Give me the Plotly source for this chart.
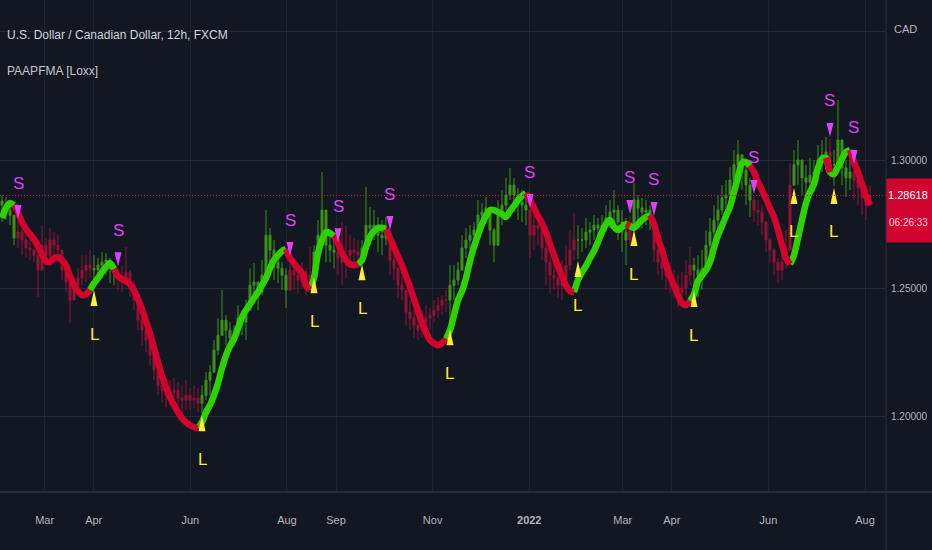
import pandas as pd
import plotly.graph_objects as go

# ---------------- data (USD/CAD 12h) ----------------
first_open = 1.2840
high = [
    1.2863, 1.2856, 1.2844, 1.2785, 1.2762, 1.2735, 1.2719, 1.2707, 1.2688, 1.2680,
    1.2746, 1.2696, 1.2735, 1.2719, 1.2707, 1.2649, 1.2602, 1.2551, 1.2551, 1.2578,
    1.2629, 1.2629, 1.2649, 1.2629, 1.2618, 1.2641, 1.2637, 1.2618, 1.2602, 1.2578,
    1.2590, 1.2661, 1.2571, 1.2532, 1.2462, 1.2395, 1.2368, 1.2317, 1.2259, 1.2200,
    1.2173, 1.2150, 1.2142, 1.2150, 1.2134, 1.2122, 1.2142, 1.2111, 1.2122, 1.2111,
    1.2122, 1.2173, 1.2200, 1.2298, 1.2384, 1.2493, 1.2395, 1.2368, 1.2356, 1.2434,
    1.2415, 1.2454, 1.2578, 1.2598, 1.2524, 1.2610, 1.2805, 1.2735, 1.2688, 1.2621,
    1.2602, 1.2578, 1.2618, 1.2602, 1.2590, 1.2602, 1.2578, 1.2661, 1.2668, 1.2766,
    1.2953, 1.2746, 1.2727, 1.2696, 1.2672, 1.2758, 1.2746, 1.2707, 1.2696, 1.2688,
    1.2688, 1.2895, 1.2817, 1.2805, 1.2778, 1.2766, 1.2778, 1.2680, 1.2649, 1.2583,
    1.2551, 1.2473, 1.2454, 1.2415, 1.2395, 1.2415, 1.2434, 1.2423, 1.2454, 1.2466,
    1.2473, 1.2493, 1.2590, 1.2590, 1.2602, 1.2707, 1.2735, 1.2746, 1.2758, 1.2844,
    1.2832, 1.2856, 1.2785, 1.2735, 1.2844, 1.2883, 1.2930, 1.2969, 1.2930, 1.2891,
    1.2883, 1.2863, 1.2793, 1.2824, 1.2797, 1.2735, 1.2688, 1.2629, 1.2602, 1.2571,
    1.2610, 1.2668, 1.2727, 1.2793, 1.2746, 1.2735, 1.2774, 1.2758, 1.2785, 1.2774,
    1.2785, 1.2824, 1.2844, 1.2883, 1.2824, 1.2805, 1.2774, 1.2782, 1.2910, 1.2863,
    1.2852, 1.2844, 1.2824, 1.2696, 1.2661, 1.2649, 1.2629, 1.2602, 1.2571, 1.2551,
    1.2563, 1.2610, 1.2661, 1.2618, 1.2629, 1.2649, 1.2727, 1.2774, 1.2824, 1.2863,
    1.2902, 1.2922, 1.2973, 1.3039, 1.3078, 1.3008, 1.2981, 1.2930, 1.2860, 1.2844,
    1.2824, 1.2746, 1.2696, 1.2657, 1.2618, 1.2668, 1.2727, 1.2988, 1.3039, 1.3078,
    1.3000, 1.2981, 1.3008, 1.3000, 1.3059, 1.3078, 1.3090, 1.3082, 1.3039, 1.3234,
    1.3020, 1.3000, 1.3000, 1.2977, 1.2961, 1.2922, 1.2902, 1.2902,
]
low = [
    1.2758, 1.2766, 1.2746, 1.2668, 1.2657, 1.2629, 1.2618, 1.2610, 1.2602, 1.2466,
    1.2602, 1.2590, 1.2618, 1.2629, 1.2602, 1.2532, 1.2485, 1.2364, 1.2454, 1.2473,
    1.2512, 1.2524, 1.2540, 1.2501, 1.2520, 1.2540, 1.2551, 1.2520, 1.2512, 1.2493,
    1.2485, 1.2532, 1.2466, 1.2415, 1.2337, 1.2278, 1.2251, 1.2200, 1.2142, 1.2083,
    1.2056, 1.2037, 1.2045, 1.2056, 1.2033, 1.2013, 1.2025, 1.2025, 1.2033, 1.2017,
    1.2013, 1.2064, 1.2083, 1.2189, 1.2239, 1.2317, 1.2278, 1.2267, 1.2271, 1.2317,
    1.2317, 1.2298, 1.2434, 1.2454, 1.2415, 1.2473, 1.2610, 1.2578, 1.2532, 1.2520,
    1.2493, 1.2423, 1.2512, 1.2493, 1.2481, 1.2501, 1.2473, 1.2493, 1.2571, 1.2602,
    1.2746, 1.2602, 1.2602, 1.2578, 1.2551, 1.2512, 1.2540, 1.2578, 1.2590, 1.2578,
    1.2602, 1.2629, 1.2668, 1.2688, 1.2641, 1.2629, 1.2668, 1.2551, 1.2532, 1.2462,
    1.2454, 1.2356, 1.2337, 1.2306, 1.2298, 1.2306, 1.2329, 1.2337, 1.2368, 1.2384,
    1.2395, 1.2407, 1.2348, 1.2454, 1.2512, 1.2590, 1.2618, 1.2649, 1.2657, 1.2707,
    1.2719, 1.2758, 1.2668, 1.2602, 1.2688, 1.2746, 1.2805, 1.2844, 1.2797, 1.2766,
    1.2758, 1.2746, 1.2618, 1.2649, 1.2668, 1.2610, 1.2512, 1.2481, 1.2493, 1.2462,
    1.2454, 1.2512, 1.2571, 1.2610, 1.2614, 1.2641, 1.2657, 1.2668, 1.2688, 1.2680,
    1.2696, 1.2719, 1.2735, 1.2746, 1.2688, 1.2641, 1.2590, 1.2668, 1.2770, 1.2746,
    1.2735, 1.2746, 1.2727, 1.2602, 1.2551, 1.2532, 1.2493, 1.2481, 1.2462, 1.2427,
    1.2442, 1.2473, 1.2512, 1.2497, 1.2462, 1.2493, 1.2590, 1.2641, 1.2688, 1.2735,
    1.2785, 1.2805, 1.2852, 1.2902, 1.2953, 1.2883, 1.2824, 1.2778, 1.2758, 1.2746,
    1.2707, 1.2641, 1.2602, 1.2551, 1.2520, 1.2532, 1.2578, 1.2688, 1.2899, 1.2902,
    1.2863, 1.2856, 1.2863, 1.2875, 1.2941, 1.2953, 1.2961, 1.2922, 1.2899, 1.3000,
    1.2902, 1.2856, 1.2883, 1.2844, 1.2824, 1.2785, 1.2766, 1.2824,
]
close = [
    1.2824, 1.2805, 1.2785, 1.2696, 1.2719, 1.2688, 1.2657, 1.2649, 1.2629, 1.2571,
    1.2668, 1.2629, 1.2688, 1.2668, 1.2649, 1.2571, 1.2524, 1.2454, 1.2512, 1.2540,
    1.2571, 1.2590, 1.2578, 1.2571, 1.2590, 1.2602, 1.2610, 1.2578, 1.2563, 1.2540,
    1.2532, 1.2563, 1.2512, 1.2454, 1.2376, 1.2337, 1.2298, 1.2239, 1.2181, 1.2122,
    1.2103, 1.2083, 1.2095, 1.2103, 1.2072, 1.2064, 1.2083, 1.2064, 1.2072, 1.2052,
    1.2083, 1.2142, 1.2173, 1.2259, 1.2317, 1.2376, 1.2337, 1.2306, 1.2317, 1.2384,
    1.2368, 1.2415, 1.2512, 1.2524, 1.2485, 1.2551, 1.2707, 1.2649, 1.2602, 1.2578,
    1.2551, 1.2493, 1.2571, 1.2551, 1.2532, 1.2563, 1.2524, 1.2551, 1.2641, 1.2707,
    1.2805, 1.2668, 1.2649, 1.2641, 1.2618, 1.2602, 1.2629, 1.2649, 1.2641, 1.2629,
    1.2657, 1.2746, 1.2735, 1.2746, 1.2707, 1.2696, 1.2719, 1.2610, 1.2578, 1.2512,
    1.2493, 1.2407, 1.2384, 1.2356, 1.2337, 1.2368, 1.2384, 1.2395, 1.2415, 1.2434,
    1.2454, 1.2454, 1.2512, 1.2532, 1.2571, 1.2657, 1.2688, 1.2707, 1.2727, 1.2785,
    1.2797, 1.2813, 1.2727, 1.2668, 1.2785, 1.2824, 1.2863, 1.2902, 1.2863, 1.2836,
    1.2824, 1.2805, 1.2707, 1.2746, 1.2735, 1.2657, 1.2602, 1.2551, 1.2540, 1.2512,
    1.2532, 1.2590, 1.2649, 1.2688, 1.2688, 1.2688, 1.2719, 1.2727, 1.2746, 1.2735,
    1.2746, 1.2774, 1.2797, 1.2805, 1.2758, 1.2719, 1.2688, 1.2735, 1.2844, 1.2813,
    1.2797, 1.2805, 1.2774, 1.2649, 1.2602, 1.2578, 1.2551, 1.2532, 1.2512, 1.2485,
    1.2501, 1.2551, 1.2590, 1.2571, 1.2551, 1.2578, 1.2668, 1.2719, 1.2766, 1.2805,
    1.2852, 1.2863, 1.2922, 1.2981, 1.3020, 1.2961, 1.2902, 1.2844, 1.2805, 1.2797,
    1.2758, 1.2688, 1.2649, 1.2602, 1.2571, 1.2602, 1.2649, 1.2902, 1.2981, 1.3000,
    1.2930, 1.2914, 1.2941, 1.2953, 1.3000, 1.3020, 1.3031, 1.2981, 1.2981, 1.3078,
    1.2969, 1.2930, 1.2953, 1.2922, 1.2891, 1.2852, 1.2824, 1.28618,
]
# PAAPFMA [Loxx] moving-average values
ma = [
    1.2774, 1.2813, 1.2832, 1.2824, 1.2797, 1.2758, 1.2731, 1.2711, 1.2692, 1.2665,
    1.2633, 1.2606, 1.2602, 1.2618, 1.2621, 1.2610, 1.2590, 1.2547, 1.2512, 1.2489,
    1.2473, 1.2477, 1.2493, 1.2520, 1.2540, 1.2563, 1.2583, 1.2598, 1.2575, 1.2547,
    1.2536, 1.2528, 1.2516, 1.2493, 1.2458, 1.2419, 1.2372, 1.2325, 1.2267, 1.2212,
    1.2158, 1.2115, 1.2076, 1.2045, 1.2017, 1.1994, 1.1978, 1.1966, 1.1959, 1.1955,
    1.1978, 1.2017, 1.2045, 1.2083, 1.2130, 1.2189, 1.2239, 1.2275, 1.2302, 1.2345,
    1.2388, 1.2415, 1.2438, 1.2462, 1.2485, 1.2512, 1.2540, 1.2578, 1.2610, 1.2629,
    1.2645, 1.2653, 1.2618, 1.2598, 1.2578, 1.2559, 1.2512, 1.2493, 1.2540, 1.2637,
    1.2688, 1.2719, 1.2715, 1.2704, 1.2676, 1.2637, 1.2610, 1.2594, 1.2590, 1.2594,
    1.2610, 1.2661, 1.2700, 1.2723, 1.2735, 1.2735, 1.2731, 1.2696, 1.2661, 1.2625,
    1.2590, 1.2547, 1.2505, 1.2458, 1.2411, 1.2368, 1.2329, 1.2298, 1.2286, 1.2278,
    1.2286, 1.2302, 1.2337, 1.2395, 1.2454, 1.2489, 1.2540, 1.2606, 1.2661, 1.2707,
    1.2750, 1.2782, 1.2805, 1.2805, 1.2797, 1.2789, 1.2778, 1.2801, 1.2821, 1.2844,
    1.2860, 1.2871, 1.2844, 1.2813, 1.2782, 1.2754, 1.2719, 1.2672, 1.2629, 1.2587,
    1.2547, 1.2512, 1.2489, 1.2485, 1.2532, 1.2563, 1.2587, 1.2618, 1.2645, 1.2680,
    1.2719, 1.2750, 1.2766, 1.2739, 1.2727, 1.2739, 1.2750, 1.2743, 1.2735, 1.2750,
    1.2766, 1.2778, 1.2785, 1.2750, 1.2696, 1.2649, 1.2594, 1.2547, 1.2512, 1.2473,
    1.2442, 1.2434, 1.2450, 1.2477, 1.2528, 1.2551, 1.2571, 1.2602, 1.2657, 1.2707,
    1.2743, 1.2782, 1.2817, 1.2875, 1.2934, 1.2988, 1.2992, 1.2977, 1.2953, 1.2914,
    1.2883, 1.2848, 1.2813, 1.2778, 1.2727, 1.2668, 1.2618, 1.2594, 1.2629, 1.2696,
    1.2766, 1.2832, 1.2875, 1.2906, 1.2969, 1.3004, 1.3008, 1.2953, 1.2945, 1.2973,
    1.3004, 1.3031, 1.3039, 1.2992, 1.2953, 1.2906, 1.2860, 1.2824,
]
short_signals = [4, 29, 72, 84, 97, 132, 157, 163, 188, 207, 213]
long_signals = [23, 50, 78, 90, 112, 144, 158, 173, 198, 208]

tick_dates = ['2021-03-01', '2021-04-01', '2021-06-01', '2021-08-01', '2021-09-01',
              '2021-11-01', '2022-01-01', '2022-03-01', '2022-04-01', '2022-06-01',
              '2022-08-01']
tick_text = ['Mar', 'Apr', 'Jun', 'Aug', 'Sep', 'Nov', '<b>2022</b>', 'Mar', 'Apr',
             'Jun', 'Aug']
price_ticks = [1.20, 1.25, 1.30, 1.35]
price_tick_text = ['1.20000', '1.25000', '1.30000', '']
last_price = 1.28618
countdown = '06:26:33'
title_text = 'U.S. Dollar / Canadian Dollar, 12h, FXCM'
indicator_text = 'PAAPFMA [Loxx]'
currency = 'CAD'

# ---------------- styling ----------------
BG = '#131722'
GREEN = '#2DD204'
RED = '#D2042D'
C_GREEN = '#3a9614'
C_RED = '#941536'
YELLOW = '#FFEB3B'
FUCHSIA = '#E040FB'
FONT = 'Liberation Sans, Arial, sans-serif'

N = len(close)
dates = pd.date_range('2021-02-02 02:30', '2022-08-04 03:20', periods=N)
dstr = [d.strftime('%Y-%m-%d %H:%M:%S') for d in dates]
opens = [first_open] + close[:-1]
hi = [max(h, o, c) for h, o, c in zip(high, opens, close)]
lo = [min(l, o, c) for l, o, c in zip(low, opens, close)]

trend = []
state = 'up'
for i in range(N):
    if i in short_signals:
        state = 'down'
    if i in long_signals:
        state = 'up'
    trend.append(state)

fig = go.Figure()
for want, col in (('up', C_GREEN), ('down', C_RED)):
    idx = [i for i in range(N) if trend[i] == want]
    fig.add_trace(go.Candlestick(
        x=[dstr[i] for i in idx],
        open=[opens[i] for i in idx], high=[hi[i] for i in idx],
        low=[lo[i] for i in idx], close=[close[i] for i in idx],
        increasing=dict(line=dict(color=col, width=1), fillcolor=col),
        decreasing=dict(line=dict(color=col, width=1), fillcolor=col),
        whiskerwidth=0, showlegend=False, hoverinfo='skip'))

for want, col in (('up', GREEN), ('down', RED)):
    ys = []
    for i in range(N):
        nxt = trend[i + 1] if i + 1 < N else None
        ys.append(ma[i] if (trend[i] == want or nxt == want) else None)
    fig.add_trace(go.Scatter(x=dstr, y=ys, mode='lines', connectgaps=False,
                             line=dict(color=col, width=6.5, shape='spline',
                                       smoothing=0.8),
                             showlegend=False, hoverinfo='skip'))

shapes = []
annotations = []
for i in short_signals:
    shapes.append(dict(type='path', xref='x', yref='y', xsizemode='pixel',
                       ysizemode='pixel', xanchor=dstr[i], yanchor=hi[i],
                       path='M-3.5,16 L3.5,16 L0,2 Z', fillcolor=FUCHSIA,
                       line=dict(width=0), layer='above'))
    annotations.append(dict(x=dstr[i], y=hi[i], xref='x', yref='y', text='S',
                            showarrow=False, yshift=38, yanchor='middle',
                            font=dict(family=FONT, size=17, color=FUCHSIA)))
for i in long_signals:
    shapes.append(dict(type='path', xref='x', yref='y', xsizemode='pixel',
                       ysizemode='pixel', xanchor=dstr[i], yanchor=lo[i],
                       path='M-3.5,-18 L3.5,-18 L0,-2 Z', fillcolor=YELLOW,
                       line=dict(width=0), layer='above'))
    annotations.append(dict(x=dstr[i], y=lo[i], xref='x', yref='y', text='L',
                            showarrow=False, yshift=-46, yanchor='middle',
                            font=dict(family=FONT, size=17, color=YELLOW)))

# current price dotted line
shapes.append(dict(type='line', xref='paper', yref='y', x0=0, x1=1,
                   y0=last_price, y1=last_price,
                   line=dict(color='#d0103e', width=1, dash='1px,2px'), layer='above'))
# price label box on the axis
shapes.append(dict(type='rect', xref='paper', yref='y', ysizemode='pixel',
                   yanchor=last_price, x0=1.0, x1=1.06, y0=17, y1=-47,
                   fillcolor=RED, line=dict(width=0), layer='above'))
# panel separators
shapes.append(dict(type='line', xref='paper', yref='paper', x0=1, x1=1, y0=-0.13, y1=1,
                   line=dict(color='#2a2e39', width=1), layer='above'))
shapes.append(dict(type='line', xref='paper', yref='paper', x0=0, x1=1.06, y0=0, y1=0,
                   line=dict(color='#2a2e39', width=2), layer='above'))

axis_mid = 908 / 886
annotations += [
    dict(xref='paper', yref='paper', x=5 / 886, y=1 - 35.5 / 492, xanchor='left',
         yanchor='middle', text=title_text, showarrow=False,
         font=dict(family=FONT, size=12, color='#d1d4dc')),
    dict(xref='paper', yref='paper', x=5 / 886, y=1 - 71 / 492, xanchor='left',
         yanchor='middle', text=indicator_text, showarrow=False,
         font=dict(family=FONT, size=12, color='#c3c6ce')),
    dict(xref='paper', yref='paper', x=1.0, xshift=6, y=1 - 29 / 492, xanchor='left',
         yanchor='middle', text=currency, showarrow=False,
         font=dict(family=FONT, size=11, color='#b2b5be')),
    dict(xref='paper', yref='y', x=axis_mid, y=last_price, xanchor='center',
         yanchor='middle', text=f'{last_price:.5f}', showarrow=False,
         font=dict(family=FONT, size=11, color='#ffffff')),
    dict(xref='paper', yref='y', x=axis_mid, y=last_price, yshift=-27,
         xanchor='center', yanchor='middle', text=countdown, showarrow=False,
         font=dict(family=FONT, size=10, color='#ffd0e4')),
]

fig.update_layout(
    width=932, height=550, margin=dict(l=0, r=46, t=0, b=58),
    paper_bgcolor=BG, plot_bgcolor=BG, showlegend=False, hovermode=False,
    xaxis=dict(type='date', range=['2021-01-31 20:10', '2022-08-14 06:00'],
               tickvals=tick_dates, ticktext=tick_text, showgrid=True,
               gridcolor='#1f2330', gridwidth=1, zeroline=False, showline=False,
               ticks='', ticklabelstandoff=20, rangeslider=dict(visible=False),
               tickfont=dict(family=FONT, size=11, color='#b2b5be'), fixedrange=True),
    yaxis=dict(side='right', range=[1.17062, 1.36235], tickvals=price_ticks,
               ticktext=price_tick_text, showgrid=True, gridcolor='#262a36',
               gridwidth=1, zeroline=False, showline=False, ticks='',
               ticklabelstandoff=4,
               tickfont=dict(family=FONT, size=10, color='#b2b5be'), fixedrange=True),
    shapes=shapes, annotations=annotations,
)

fig.write_html('out.html', include_plotlyjs=True, config={'displayModeBar': False})
